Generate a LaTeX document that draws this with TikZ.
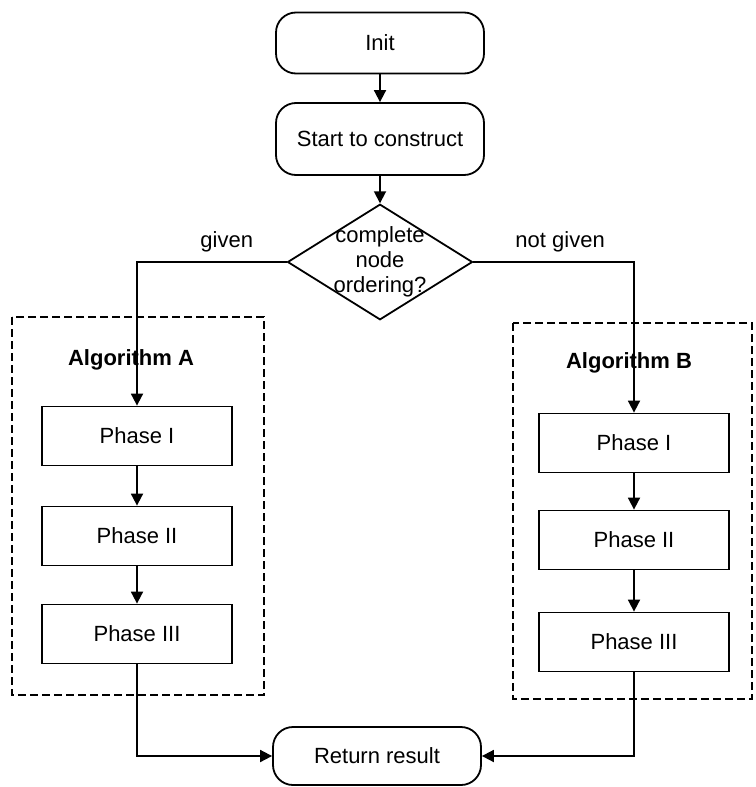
\documentclass[tikz,border=0pt]{standalone}
\usepackage{fontspec}
\setmainfont{Liberation Sans}
\usetikzlibrary{shapes.geometric,arrows.meta}
\tikzset{
  term/.style={draw, rounded corners=10pt, minimum width=104pt, inner sep=2pt},
  phase/.style={draw, minimum width=95pt, minimum height=29.5pt},
  decision/.style={draw, diamond, aspect=1.6, inner sep=-2pt, align=center},
  algbox/.style={dash pattern=on 4pt off 2pt},
  flow/.style={-{Triangle[length=6pt,width=6pt]}},
}
\begin{document}
\begin{tikzpicture}[x=.5pt, y=-.5pt, line width=.9pt, font=\fontsize{11}{12.5}\selectfont]
    \useasboundingbox (0,0) rectangle (755,787);
    % dashed frames of the two algorithms
    \draw[algbox] (12,317) rectangle (264,695);
    \draw[algbox] (513,323) rectangle (752,699);
    \node[font=\fontsize{11}{12.5}\selectfont\bfseries] (algA) at (131,360) {Algorithm A};
    \node[font=\fontsize{11}{12.5}\selectfont\bfseries] (algB) at (629,363) {Algorithm B};
    % main flow
    \node[term, minimum height=30.5pt] (init) at (380,43) {Init};
    \node[term, minimum height=36pt] (start) at (380,139) {Start to construct};
    \node[decision] (order) at (380,262) {complete\\node\\ordering?};
    \node[term, minimum height=29pt] (ret) at (377,756) {Return result};
    % phases
    \node[phase] (a1) at (137,436) {Phase I};
    \node[phase] (a2) at (137,536) {Phase II};
    \node[phase] (a3) at (137,634) {Phase III};
    \node[phase] (b1) at (634,443) {Phase I};
    \node[phase] (b2) at (634,540) {Phase II};
    \node[phase] (b3) at (634,642) {Phase III};
    % connectors
    \draw[flow] (init) -- (start);
    \draw[flow] (start) -- (order);
    \draw[flow] (order.west) -| node[pos=.2, above=1pt] {given} (a1.north);
    \draw[flow] (order.east) -| node[pos=.27, above=1pt] {not given} (b1.north);
    \draw[flow] (a1) -- (a2);
    \draw[flow] (a2) -- (a3);
    \draw[flow] (b1) -- (b2);
    \draw[flow] (b2) -- (b3);
    \draw[flow] (a3.south) |- (ret.west);
    \draw[flow] (b3.south) |- (ret.east);
\end{tikzpicture}
\end{document}
